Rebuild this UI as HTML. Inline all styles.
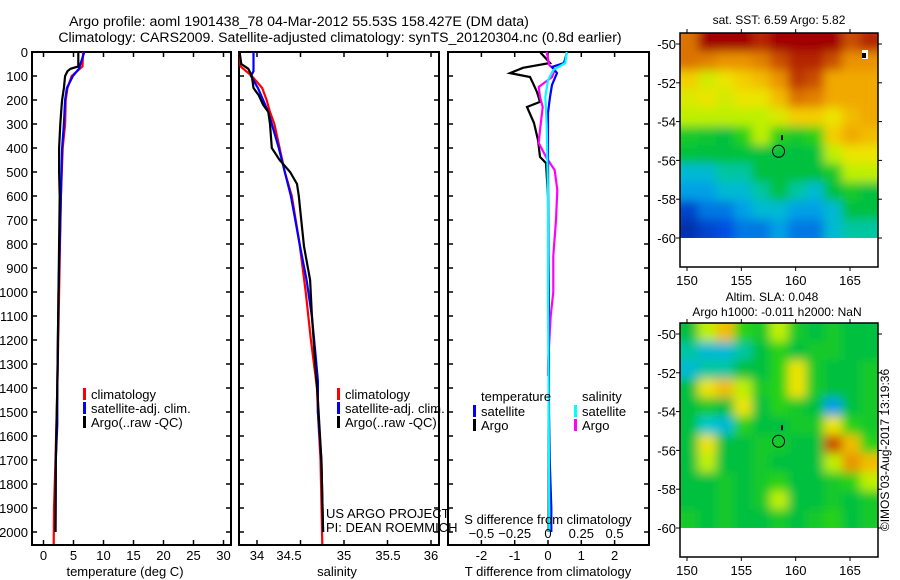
<!DOCTYPE html>
<html><head><meta charset="utf-8">
<style>
html,body{margin:0;padding:0;background:#fff;}
svg{display:block;font-family:"Liberation Sans",sans-serif;}
text{font-size:13px;fill:#000;}
</style></head>
<body>
<svg id="chart" width="900" height="580" viewBox="0 0 900 580" xmlns="http://www.w3.org/2000/svg">
<text x="299" y="26" text-anchor="middle" style="font-size:14.2px">Argo profile: aoml 1901438_78 04-Mar-2012 55.53S 158.427E (DM data)</text>
<text x="340" y="42" text-anchor="middle" style="font-size:14.1px">Climatology: CARS2009. Satellite-adjusted climatology: synTS_20120304.nc (0.8d earlier)</text>
<g id="plots"></g>
<g id="maps"></g>
<text transform="translate(889,450) rotate(-90)" text-anchor="middle" style="font-size:12px">©IMOS 03-Aug-2017 13:19:36</text>
</svg>
<script>
// ---- data ----
const depthTicks = [0,100,200,300,400,500,600,700,800,900,1000,1100,1200,1300,1400,1500,1600,1700,1800,1900,2000];
const tempTicks = [0,5,10,15,20,25,30];
const salTicks = [34,34.5,35,35.5,36];
const diffTTicks = [-2,-1,0,1,2];
const diffSTicks = [-0.5,-0.25,0,0.25,0.5];

const tClimDepth = [0,60,100,150,200,300,400,600,1000,1400,1700,1900,2050];
const tClimVal   = [6.6,6.5,4.7,4.0,3.7,3.6,3.2,2.9,2.6,2.3,2.0,1.75,1.7];
const tSatDepth = [0,70,100,150,200,300,400,600,1000,1400,1550,1700,2000];
const tSatVal   = [6.8,5.9,4.9,3.9,3.6,3.4,3.1,2.9,2.5,2.3,2.3,2.05,2.0];
const tArgoDepth = [0,60,70,80,100,150,200,230,300,400,500,600,1000,1400,1700,2000];
const tArgoVal   = [5.8,5.8,4.5,4.0,3.6,3.4,3.1,3.0,2.8,2.6,2.6,2.7,2.5,2.3,2.05,2.0];

const sClimDepth = [0,60,100,150,200,250,300,400,500,600,800,1000,1200,1400,1500,1700,2050];
const sClimVal   = [33.80,33.81,33.94,34.06,34.11,34.15,34.20,34.26,34.32,34.40,34.49,34.56,34.62,34.69,34.70,34.73,34.75];
const sSatDepth = [0,80,100,150,250,300,400,500,600,700,800,950,1100,1250,1370,1500,1700,2000];
const sSatVal   = [33.96,33.96,33.93,34.01,34.13,34.17,34.25,34.32,34.39,34.44,34.49,34.57,34.63,34.67,34.70,34.70,34.74,34.76];
const sArgoDepth = [0,50,70,100,150,180,220,250,300,400,450,500,550,600,670,810,950,1090,1300,1450,1700,2000];
const sArgoVal   = [33.80,33.82,33.90,33.94,33.96,34.02,34.07,34.13,34.15,34.17,34.26,34.38,34.46,34.48,34.50,34.54,34.61,34.63,34.67,34.70,34.74,34.76];

const dTArgoDepth = [0,46,66,88,104,130,167,208,229,296,367,437,463,600,1000,1300,1600,2000];
const dTArgoVal   = [-0.24,0.06,-0.75,-1.14,-0.54,-0.45,-0.33,-0.24,-0.63,-0.42,-0.30,-0.24,-0.06,0.0,0.02,0.03,0.02,0.02];
const dTSatDepth = [0,46,62,88,137,187,254,400,800,1200,1500,1700,1900,2000];
const dTSatVal   = [0.57,0.48,0.12,0.27,0.12,0.06,0.0,0.0,0.01,0.02,0.03,0.05,0.1,0.1];
const dSArgoDepth = [0,54,75,104,146,187,229,325,379,442,492,575,700,850,1000,1100,1300,1350];
const dSArgoVal   = [-0.01,0.01,0.05,0.03,-0.07,-0.06,-0.04,-0.06,-0.07,-0.01,0.05,0.07,0.06,0.04,0.04,0.02,0.0,0.0];
const dSSatDepth = [0,46,75,117,187,300,600,1000,1500,2000];
const dSSatVal   = [0.14,0.13,0.04,0.0,-0.02,-0.01,0.0,0.0,0.005,0.01];

const lonTicks = [150,155,160,165];
const latTicks = [-50,-52,-54,-56,-58,-60];
const sstGrid = [
[0.8,0.95,0.95,0.95,0.9,0.95,0.95,0.95,0.95,0.85,0.9],
[0.8,0.78,0.75,0.75,0.78,0.85,0.9,0.9,0.85,0.75,0.75],
[0.68,0.62,0.65,0.68,0.7,0.75,0.88,0.85,0.72,0.72,0.72],
[0.63,0.65,0.62,0.65,0.65,0.7,0.8,0.78,0.72,0.72,0.72],
[0.6,0.6,0.6,0.6,0.6,0.63,0.68,0.68,0.65,0.7,0.72],
[0.5,0.48,0.45,0.55,0.6,0.55,0.5,0.55,0.68,0.72,0.7],
[0.46,0.45,0.45,0.46,0.46,0.45,0.45,0.46,0.6,0.65,0.65],
[0.35,0.35,0.4,0.4,0.45,0.45,0.45,0.45,0.5,0.6,0.6],
[0.3,0.3,0.35,0.35,0.4,0.45,0.4,0.35,0.45,0.5,0.45],
[0.15,0.25,0.25,0.3,0.35,0.35,0.3,0.3,0.35,0.45,0.45],
[0.08,0.15,0.2,0.25,0.25,0.3,0.25,0.25,0.35,0.4,0.4]];
const slaGrid = [
[0.45,0.6,0.7,0.55,0.5,0.6,0.5,0.45,0.5,0.45,0.45],
[0.4,0.35,0.35,0.4,0.45,0.55,0.45,0.5,0.5,0.45,0.45],
[0.35,0.4,0.4,0.45,0.45,0.55,0.65,0.5,0.45,0.45,0.5],
[0.45,0.65,0.7,0.6,0.5,0.55,0.65,0.5,0.45,0.45,0.5],
[0.45,0.5,0.45,0.65,0.45,0.55,0.5,0.45,0.3,0.45,0.5],
[0.45,0.38,0.35,0.55,0.45,0.45,0.5,0.5,0.65,0.55,0.5],
[0.45,0.65,0.45,0.45,0.5,0.5,0.45,0.45,0.85,0.7,0.55],
[0.45,0.6,0.45,0.45,0.5,0.45,0.45,0.45,0.6,0.75,0.7],
[0.45,0.45,0.5,0.45,0.5,0.55,0.45,0.45,0.5,0.55,0.6],
[0.45,0.45,0.5,0.45,0.5,0.6,0.45,0.45,0.5,0.45,0.5],
[0.5,0.45,0.5,0.45,0.45,0.5,0.45,0.5,0.55,0.45,0.5]];

// ---- helpers ----
const NS='http://www.w3.org/2000/svg';
function mk(tag, attrs, parent){const e=document.createElementNS(NS,tag);for(const k in attrs)e.setAttribute(k,attrs[k]);parent.appendChild(e);return e;}
const plots=document.getElementById('plots');
const maps=document.getElementById('maps');
const Y0=52, YS=0.24;
function yD(d){return Y0+d*YS;}
const xT=t=>43.5+6*t;
const xS=s=>257+87*(s-34);
const xDT=t=>548+33.3*t;
const xDS=s=>548+133.2*s;

function frame(x0,x1,name,tickXs){
  const r=mk('rect',{x:x0,y:52,width:x1-x0,height:493,fill:'none',stroke:'#000','stroke-width':2},plots);
  
  
  depthTicks.forEach(d=>{
    mk('line',{x1:x0,x2:x0+5,y1:yD(d),y2:yD(d),stroke:'#000','stroke-width':1.5},plots);
    mk('line',{x1:x1-5,x2:x1,y1:yD(d),y2:yD(d),stroke:'#000','stroke-width':1.5},plots);
  });
  tickXs.forEach(x=>{
    mk('line',{x1:x,x2:x,y1:52,y2:57,stroke:'#000','stroke-width':1.5},plots);
    mk('line',{x1:x,x2:x,y1:540,y2:545,stroke:'#000','stroke-width':1.5},plots);
  });
}
function line(depths,vals,fx,color,name){
  const pts=depths.map((d,i)=>fx(vals[i]).toFixed(1)+','+yD(d).toFixed(1)).join(' ');
  const p=mk('polyline',{points:pts,fill:'none',stroke:color,'stroke-width':2.2},plots);
  
  
}
function txt(x,y,s,anchor,name,size){
  const t=mk('text',{x:x,y:y,'text-anchor':anchor||'start'},plots);
  if(size)t.style.fontSize=size+'px';
  t.textContent=s;
  
  
  return t;
}
function legend(x,y,color,label,name){
  mk('rect',{x:x,y:y-10,width:3,height:12,fill:color},plots);
  txt(x+8,y+1,label,'start',name);
}

depthTicks.forEach(d=>{ txt(28,yD(d)+5,String(d),'end','depth-tick-label'); });

// panel 1 temperature
frame(32,231,'temperature-panel',tempTicks.map(xT));
tempTicks.forEach(t=>txt(xT(t),560,String(t),'middle','temperature-tick-label'));
txt(125,576,'temperature (deg C)','middle','temperature-axis-title');
line(tClimDepth,tClimVal,xT,'#ff0000','temp-climatology-line');
line(tSatDepth,tSatVal,xT,'#0000ff','temp-satellite-line');
line(tArgoDepth,tArgoVal,xT,'#000000','temp-argo-line');
legend(83,398,'#ff0000','climatology','legend-climatology');
legend(83,412,'#0000ff','satellite-adj. clim.','legend-satellite');
legend(83,426,'#000000','Argo(..raw -QC)','legend-argo');

// panel 2 salinity
frame(239,439,'salinity-panel',salTicks.map(xS));
const salLabX=[257,289,344,388,431];
salTicks.forEach((s,i)=>txt(salLabX[i],560,String(s),'middle','salinity-tick-label'));
txt(337,576,'salinity','middle','salinity-axis-title');
line(sClimDepth,sClimVal,xS,'#ff0000','sal-climatology-line');
line(sSatDepth,sSatVal,xS,'#0000ff','sal-satellite-line');
line(sArgoDepth,sArgoVal,xS,'#000000','sal-argo-line');
legend(337,398,'#ff0000','climatology','legend-climatology-2');
legend(337,412,'#0000ff','satellite-adj. clim.','legend-satellite-2');
legend(337,426,'#000000','Argo(..raw -QC)','legend-argo-2');
txt(326,518,'US ARGO PROJECT','start','project-label');
txt(326,532,'PI: DEAN ROEMMICH','start','pi-label');

// panel 3 differences
frame(448,649,'difference-panel',diffTTicks.map(xDT));
line(dTArgoDepth,dTArgoVal,xDT,'#000000','dt-argo-line');
line(dSArgoDepth,dSArgoVal,xDS,'#ff00ff','ds-argo-line');
line(dTSatDepth,dTSatVal,xDT,'#0000ff','dt-satellite-line');
line(dSSatDepth,dSSatVal,xDS,'#00ffff','ds-satellite-line');
txt(481,401,'temperature','start','legend-temperature-header');
txt(582,401,'salinity','start','legend-salinity-header');
legend(473,415,'#0000ff','satellite','legend-t-satellite');
legend(473,429,'#000000','Argo','legend-t-argo');
legend(574,415,'#00ffff','satellite','legend-s-satellite');
legend(574,429,'#ff00ff','Argo','legend-s-argo');
txt(548,524,'S difference from climatology','middle','s-diff-axis-title');
diffSTicks.forEach(s=>txt(xDS(s),538,String(s).replace('-','\u2212'),'middle','s-diff-tick-label'));
diffTTicks.forEach(t=>txt(xDT(t),560,String(t),'middle','t-diff-tick-label'));
txt(548,576,'T difference from climatology','middle','t-diff-axis-title');

// ---- maps ----
const cmStops=[[0,[0,32,140]],[0.2,[0,80,224]],[0.3,[0,160,230]],[0.38,[0,200,200]],[0.45,[0,192,64]],[0.55,[40,210,20]],[0.6,[190,240,0]],[0.66,[245,225,0]],[0.73,[240,160,0]],[0.83,[210,96,0]],[0.95,[160,0,0]],[1,[150,0,0]]];
function cmap(v){for(let i=1;i<cmStops.length;i++){if(v<=cmStops[i][0]){const a=cmStops[i-1],b=cmStops[i];const f=(v-a[0])/(b[0]-a[0]);const c=a[1].map((x,j)=>Math.round(x+(b[1][j]-x)*f));return 'rgb('+c.join(',')+')';}}return 'rgb(150,0,0)';}
const defs=mk('defs',{},maps);
const flt=mk('filter',{id:'blur',filterUnits:'userSpaceOnUse',x:600,y:0,width:300,height:580},defs);
mk('feGaussianBlur',{stdDeviation:5},flt);
function drawMap(top,grid,name,circleName){
  const x0=680,x1=878,y0=top,fillBottom=top+205,y1=top+234;
  const cp=mk('clipPath',{id:'clip'+top},defs);
  mk('rect',{x:x0,y:y0,width:x1-x0,height:fillBottom-y0},cp);
  const g=mk('g',{'clip-path':'url(#clip'+top+')'},maps);
  
  
  const inner=mk('g',{filter:'url(#blur)'},g);
  const rows=grid.length, cols=grid[0].length;
  const cw=(x1-x0)/cols, ch=(fillBottom-y0)/rows;
  grid.forEach((row,r)=>row.forEach((v,c)=>{
    const ext=8;
    const xa=x0+c*cw-(c===0?ext:0), ya=y0+r*ch-(r===0?ext:0);
    const w=cw+(c===0?ext:0)+(c===cols-1?ext:0)+1, h=ch+(r===0?ext:0)+(r===rows-1?ext:0)+1;
    mk('rect',{x:xa,y:ya,width:w,height:h,fill:cmap(v)},inner);
  }));
  const lonX=lon=>687+(lon-150)*163/15;
  const latY=lat=>top+11+(-50-lat)*19.4;
  mk('rect',{x:x0,y:y0,width:x1-x0,height:y1-y0,fill:'none',stroke:'#000','stroke-width':1.5},maps);
  lonTicks.forEach(l=>{
    mk('line',{x1:lonX(l),x2:lonX(l),y1:y0-4,y2:y0,stroke:'#000'},maps);
    mk('line',{x1:lonX(l),x2:lonX(l),y1:y1,y2:y1+4,stroke:'#000'},maps);
    const t=mk('text',{x:lonX(l),y:y1+18,'text-anchor':'middle'},maps);t.textContent=l;
    
    
  });
  latTicks.forEach(l=>{
    mk('line',{x1:x0-4,x2:x0,y1:latY(l),y2:latY(l),stroke:'#000'},maps);
    mk('line',{x1:x1,x2:x1+4,y1:latY(l),y2:latY(l),stroke:'#000'},maps);
    const t=mk('text',{x:676,y:latY(l)+5,'text-anchor':'end'},maps);t.textContent=l;
    
    
  });
  const c=mk('circle',{cx:lonX(158.427),cy:latY(-55.53),r:6,fill:'none',stroke:'#000','stroke-width':1},maps);
  
  
  mk('rect',{x:781,y:latY(-54.7),width:2,height:5,fill:'#000'},maps);
}
drawMap(33,sstGrid,'sst-map','sst-float-marker');
drawMap(323,slaGrid,'sla-map','sla-float-marker');
mk('rect',{x:862,y:50,width:6,height:9,fill:'#fff'},maps);
mk('rect',{x:862,y:53,width:4,height:5,fill:'#000'},maps);
function mt(x,y,s,name){const t=mk('text',{x:x,y:y,'text-anchor':'middle'},maps);t.style.fontSize='12px';t.textContent=s;
  
  }
mt(779,24,'sat. SST: 6.59 Argo: 5.82','sst-map-title');
mt(772,301,'Altim. SLA: 0.048','sla-map-title');
mt(777,316,'Argo h1000: -0.011 h2000: NaN','sla-map-subtitle');
</script>
</body></html>
